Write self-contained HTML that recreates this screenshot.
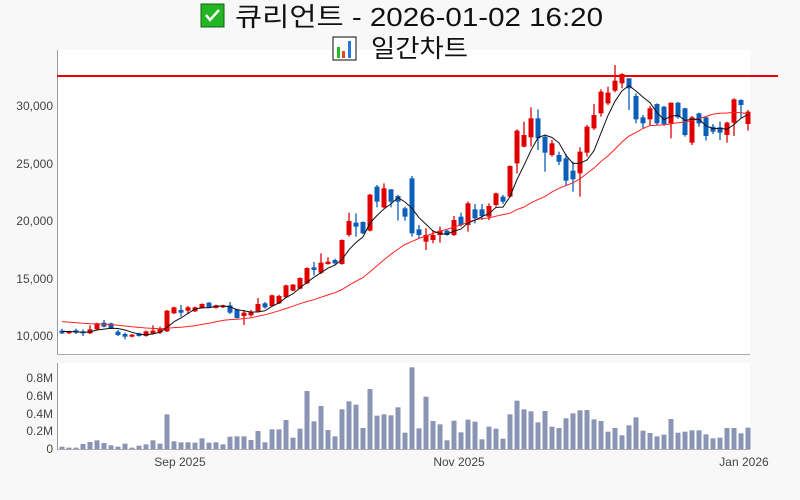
<!DOCTYPE html>
<html><head><meta charset="utf-8"><style>
html,body{margin:0;padding:0;background:#f8f8f8;}
body{width:800px;height:500px;overflow:hidden;position:relative;font-family:"Liberation Sans","Noto Sans CJK KR",sans-serif;}
</style></head><body>
<svg id="s" width="800" height="500" xmlns="http://www.w3.org/2000/svg" style="position:absolute;left:0;top:0">
<rect x="0" y="0" width="800" height="500" fill="#f8f8f8"/>
<rect x="57" y="50" width="693" height="304" fill="#fff"/>
<rect x="57" y="363" width="693" height="87" fill="#fff"/>
<line x1="57.5" y1="50" x2="57.5" y2="354" stroke="#999"/>
<line x1="57" y1="354.5" x2="750" y2="354.5" stroke="#aaa"/>
<line x1="57.5" y1="363" x2="57.5" y2="450" stroke="#999"/>
<line x1="57" y1="449.5" x2="750" y2="449.5" stroke="#aaa"/>
<g id="g"></g>
<line x1="57" y1="76" x2="778" y2="76" stroke="#e00" stroke-width="2"/>
<g font-size="12" fill="#444" text-anchor="end">
<text x="53" y="110">30,000</text><text x="53" y="168">25,000</text><text x="53" y="225">20,000</text><text x="53" y="283">15,000</text><text x="53" y="340">10,000</text>
<text x="53" y="382">0.8M</text><text x="53" y="418">0.4M</text><text x="53" y="400">0.6M</text><text x="53" y="435">0.2M</text><text x="53" y="453">0</text>
</g>
<g font-size="12" fill="#444" text-anchor="middle">
<text x="180" y="466">Sep 2025</text><text x="459" y="466">Nov 2025</text><text x="744" y="466">Jan 2026</text>
</g>
<rect x="201" y="4" width="23" height="23" fill="#22b622" stroke="#1a5f1a" stroke-width="1"/>
<path d="M206 15 l4 5 l9 -10" stroke="#fff" stroke-width="2.5" fill="none"/>
<text x="235" y="26" font-size="26" fill="#111" textLength="368" lengthAdjust="spacingAndGlyphs">큐리언트 - 2026-01-02 16:20</text>
<rect x="333" y="37" width="23" height="23" fill="#fff" stroke="#333" stroke-width="1.2"/>
<rect x="337" y="47" width="3" height="11" fill="#2b2"/>
<rect x="342" y="51" width="3" height="7" fill="#e42"/>
<rect x="348" y="41" width="3" height="17" fill="#27d"/>
<text x="371" y="57" font-size="25" fill="#111" textLength="97" lengthAdjust="spacingAndGlyphs">일간차트</text>
</svg>
<script>
var z1=[['B',482,490,476,492],['R',484,490,482,492],['B',481,488,476,492],['B',484,490,478,498],['R',478,490,466,492],['R',460,478,458,480],['B',458,470,450,472],['B',460,475,458,477],['B',485,495,480,498],['B',492,500,488,508],['R',494,500,492,502],['B',490,498,488,500],['R',484,498,482,500],['R',482,492,466,494],['R',476,488,470,492],['R',422,484,420,486],['R',412,430,410,432],['B',420,428,405,440],['R',412,422,408,432],['R',412,424,410,426],['R',402,414,400,416],['B',398,412,396,414],['R',406,414,404,416],['R',406,412,404,414],['B',406,428,396,432],['B',418,444,416,446],['R',428,438,420,465],['R',426,436,420,440],['R',402,424,384,428],['B',400,412,396,416],['R',376,408,374,410],['R',378,400,374,402],['R',346,382,344,384],['R',344,362,342,364],['R',324,356,322,358],['R',294,340,292,342],['B',292,300,276,316],['R',278,308,250,312],['R',275,282,262,284],['B',270,280,266,284],['R',210,282,208,284],['R',153,195,128,200],['B',158,170,130,200],['B',156,190,154,192],['R',74,182,72,184],['B',50,95,45,112],['R',55,112,40,114],['B',58,95,58,112],['B',78,95,74,152],['B',115,140,110,152],['B',25,190,18,200],['B',178,195,165,205]];
var z2=[['R',525,545,505,570],['R',525,540,510,550],['R',512,525,500,548],['B',512,525,510,527],['R',480,525,468,528],['B',470,495,458,500],['R',430,495,425,515],['B',448,475,432,490],['B',448,468,432,480],['R',438,470,430,480],['R',400,435,398,440],['B',410,425,405,432],['R',318,410,316,412],['R',212,310,208,340],['R',225,260,185,262],['R',175,232,142,260],['B',175,235,148,270],['B',230,278,225,335],['R',250,285,240,290],['B',285,305,275,315],['B',295,362,282,378],['B',332,358,305,395],['R',275,340,262,410],['R',200,278,195,290],['R',165,205,132,210],['R',95,160,88,170],['R',98,130,80,135],['R',62,92,15,97],['R',42,70,40,85],['B',55,85,55,150],['B',108,178,100,190],['B',172,190,165,205],['R',145,178,138,198],['B',132,190,130,195],['B',140,192,138,198],['R',128,190,128,235],['B',128,172,126,176],['B',145,225,143,230],['R',172,248,168,255],['B',160,190,158,200],['B',172,228,170,242],['B',200,215,192,222],['B',202,218,185,240],['R',188,225,185,248],['R',118,188,115,228],['B',120,135,118,175],['R',155,192,150,212]];
var C=[];
z1.forEach(function(d){C.push([d[0],170+d[1]/3,170+d[2]/3,170+d[3]/3,170+d[4]/3]);});
z2.forEach(function(d){C.push([d[0],60+d[1]/3,60+d[2]/3,60+d[3]/3,60+d[4]/3]);});
var v1=[260,263,263,252,246,241,249,256,260,251,263,257,253,241,251,163,244,247,247,248,235,248,247,253,230,229,229,240,213,247,208,208,180,233,206,93,184,138,210,229,148,124,134,204,87,167,163,166,142,218];
var v2=[22,205,110,183,193,241,182,217,179,185,238,200,206,236,163,122,148,154,187,153,200,204,175,160,151,150,178,183,215,204,226,196,172,212,219,229,224,177,218,215,211,211,223,235,233,204,204,220,203];
var V=v1.map(function(y){return 360+y/3;}).concat(v2.map(function(y){return 360+y/3;}));
var h='';
for(var i=0;i<C.length;i++){var x=62+7*i,c=C[i],col=c[0]=='R'?'#e00000':'#0b5fb8';
h+='<line x1="'+x+'" x2="'+x+'" y1="'+c[3]+'" y2="'+c[4]+'" stroke="'+col+'" stroke-width="1.3"/>';
h+='<rect x="'+(x-2.5)+'" y="'+c[1]+'" width="5" height="'+Math.max(1.5,c[2]-c[1])+'" fill="'+col+'"/>';}
for(var i=0;i<V.length;i++){var x=62+7*i;h+='<rect x="'+(x-2.5)+'" y="'+V[i]+'" width="5" height="'+(449-V[i])+'" fill="#8a94b4"/>';}
var cl=C.map(function(c){return c[0]=='R'?c[1]:c[2];});
function ma(n,pad){var a=[],p=[];for(var k=0;k<n-1;k++)p.push(pad);var all=p.concat(cl);var pts=[];for(var i=0;i<cl.length;i++){var s=0;for(var k=0;k<n;k++)s+=all[i+k];pts.push((62+7*i)+','+(s/n).toFixed(1));}return pts.join(' ');}
h+='<polyline points="'+ma(20,321)+'" fill="none" stroke="#f22" stroke-width="1"/>';
h+='<polyline points="'+ma(5,331)+'" fill="none" stroke="#111" stroke-width="1"/>';
document.getElementById('g').innerHTML=h;
</script>
</body></html>
